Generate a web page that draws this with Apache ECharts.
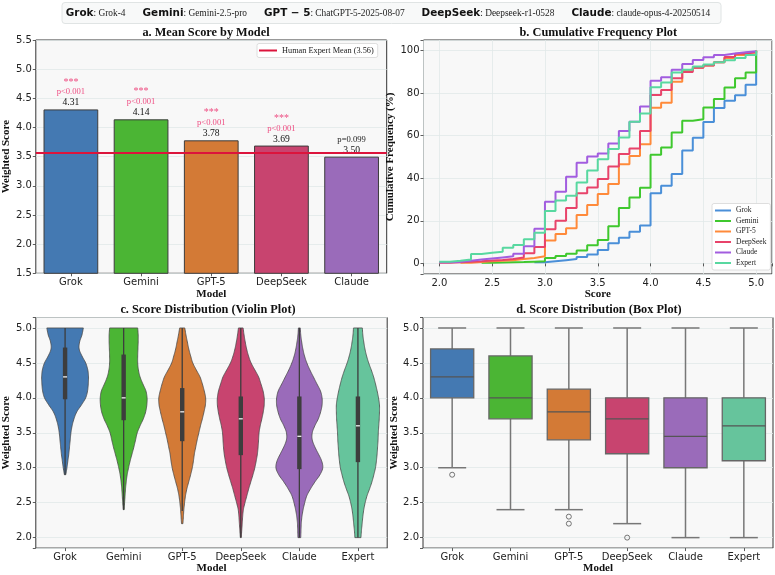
<!DOCTYPE html>
<html><head><meta charset="utf-8">
<script src="https://cdn.jsdelivr.net/npm/echarts@6/dist/echarts.min.js"></script>
<style>html,body{margin:0;padding:0;background:#fff}#c{width:775px;height:575px}</style>
</head><body><div id="c"></div>
<script>
// ---------- data ----------
const models5 = ['Grok','Gemini','GPT-5','DeepSeek','Claude'];
const models6 = ['Grok','Gemini','GPT-5','DeepSeek','Claude','Expert'];
const headerKeys = ['Grok','Gemini','GPT \u2212 5','DeepSeek','Claude'];
const headerVals = [': Grok-4',': Gemini-2.5-pro',': ChatGPT-5-2025-08-07',': Deepseek-r1-0528',': claude-opus-4-20250514'];

const meanScores = [4.31,4.14,3.78,3.69,3.50];
const pStars = ['***','***','***','***',''];
const pTexts = ['p<0.001','p<0.001','p<0.001','p<0.001','p=0.099'];
const humanExpertMean = 3.56;

// cumulative frequency (%), at scores 2.0 .. 5.0
const scoreGrid = [2.0,2.1,2.2,2.3,2.4,2.5,2.6,2.7,2.8,2.9,3.0,3.1,3.2,3.3,3.4,3.5,3.6,3.7,3.8,3.9,4.0,4.1,4.2,4.3,4.4,4.5,4.6,4.7,4.8,4.9,5.0];
const cumGrok     = [null,null,null,null,null,null,null,null,null,0.5,1.0,1.5,2.0,3.0,4.2,6.3,9.4,12.0,14.9,17.8,33,36.5,42,53,59,66.5,73,76.5,79,84,100];
const cumGemini   = [null,null,null,null,0.3,0.4,0.5,0.6,0.8,1.0,2.5,3.5,4.5,6.0,8.5,11,17.5,26,31,35.5,51,54.5,61.5,67,67.7,73.3,77.3,82.7,87,89.7,100];
const cumGPT5     = [null,null,0.3,0.6,1.0,1.2,1.5,2.0,2.5,3.3,10.7,13.8,16.5,22.7,27.4,32.6,37.3,46.6,50.5,56,73.2,75.5,85.4,90.8,92,93,94.5,96.5,98,99,100];
const cumDeepSeek = [0.3,0.5,0.8,1.0,1.3,1.6,2.0,2.8,4.7,7.7,16,20,26,33,35.7,39.7,45.5,51.4,54,62.2,79.2,81.5,87,90,92,93,94.5,97,98.5,99.3,100];
const cumClaude   = [0.5,0.8,1.2,1.8,2.3,2.8,3.3,4.5,8.0,16.3,29,33.7,40.7,47.3,50.2,51.7,56.4,62.2,66.6,73.7,85.9,87.5,91,93.7,95.6,96.9,98,98.7,99.2,99.7,100];
const cumExpert   = [0.8,1.2,1.8,4.4,5.0,5.5,7.3,8.6,11.3,14.4,24.6,29.5,31.8,38,43.6,49,53.8,59.2,66.6,70.5,82.8,85,89.7,91,92.5,93.5,94.5,95.5,96.5,98,100];
const scoreTicks = [2.0,2.5,3.0,3.5,4.0,4.5,5.0];
const freqTicks = [0,20,40,60,80,100];

// violin relative half-widths at scores 2.0 .. 5.0
const vwGrok     = [0,0,0,0,0,0,0,0,0,0.03,0.08,0.12,0.16,0.19,0.22,0.25,0.30,0.38,0.50,0.70,0.88,0.96,0.99,1.0,0.97,0.88,0.72,0.60,0.62,0.72,0.78];
const vwGemini   = [0,0,0,0,0.02,0.04,0.06,0.08,0.11,0.15,0.21,0.28,0.36,0.44,0.51,0.58,0.70,0.84,0.94,0.99,1.0,0.95,0.82,0.70,0.63,0.60,0.60,0.61,0.62,0.62,0.60];
const vwGPT5     = [0,0,0.03,0.05,0.07,0.10,0.14,0.20,0.28,0.36,0.43,0.48,0.52,0.58,0.64,0.71,0.78,0.86,0.93,0.99,1.0,0.94,0.86,0.76,0.60,0.45,0.36,0.28,0.22,0.16,0.11];
const vwDeepSeek = [0.02,0.04,0.06,0.08,0.11,0.18,0.26,0.34,0.43,0.52,0.60,0.66,0.71,0.74,0.76,0.78,0.83,0.90,0.96,1.0,1.0,0.95,0.86,0.76,0.60,0.44,0.33,0.25,0.19,0.14,0.10];
const vwClaude   = [0.06,0.07,0.08,0.11,0.16,0.23,0.32,0.48,0.67,0.88,1.0,0.95,0.81,0.66,0.55,0.55,0.66,0.81,0.91,0.97,0.97,0.90,0.75,0.60,0.45,0.32,0.22,0.15,0.10,0.06,0.04];
const vwExpert   = [0.13,0.15,0.18,0.21,0.25,0.31,0.39,0.50,0.60,0.68,0.75,0.79,0.82,0.84,0.86,0.87,0.89,0.91,0.92,0.92,0.88,0.82,0.75,0.67,0.57,0.46,0.37,0.30,0.25,0.21,0.19];
const violinMin  = [2.9,2.4,2.2,2.0,2.0,2.0];
const vWhiskLo   = [2.9,2.4,2.38,2.0,2.0,2.0];
const vWhiskHi   = [5.0,5.0,5.0,5.0,5.0,5.0];
const vQ1        = [3.98,3.68,3.38,3.18,2.98,3.08];
const vMed       = [4.3,4.0,3.8,3.7,3.45,3.6];
const vQ3        = [4.72,4.62,4.14,4.02,4.02,4.02];

// box plot
const boxMin = [3.0,2.4,2.4,2.2,2.0,2.0];
const boxQ1  = [4.0,3.7,3.4,3.2,3.0,3.1];
const boxMed = [4.3,4.0,3.8,3.7,3.45,3.6];
const boxQ3  = [4.7,4.6,4.125,4.0,4.0,4.0];
const boxMax = [5.0,5.0,5.0,5.0,5.0,5.0];
const outlierCat = [0,2,2,3];
const outlierVal = [2.9,2.3,2.2,2.0];

// ---------- styles ----------
const SANS = '"DejaVu Sans", sans-serif';
const SERIF = '"Liberation Serif", "Times New Roman", serif';
const fillColors = ['#4479b2','#4bb534','#d37a36','#c8446f','#9a6bba','#66c49c'];
const lineColors = ['#4a8fd8','#3fc82e','#ff8a3a','#e8436a','#a25ddf','#58d8a0'];
const pink = '#ee4d82';
const gridBg = '#f8f8f8';
const gridLine = {show:true, lineStyle:{color:'#e1e9e9', width:0.8}};
const tickLab = {fontFamily:SANS, fontSize:10, color:'#222', margin:4};
const catLab = {fontFamily:SANS, fontSize:10, color:'#222', margin:4, interval:0};
const tickStyle = {show:true, length:3, lineStyle:{color:'#333', width:0.8}};
const nameSt = {fontFamily:SERIF, fontWeight:'bold', fontSize:11, color:'#111'};
const isTick = (arr) => (v) => arr.some(t => Math.abs(t - v) < 1e-6) ? (arr === freqTicks ? String(v) : v.toFixed(1)) : '';

function smoothProfile(pts, n) {
  const out = [];
  for (let i = 0; i < pts.length - 1; i++) {
    const p0 = pts[Math.max(i-1,0)], p1 = pts[i], p2 = pts[i+1], p3 = pts[Math.min(i+2,pts.length-1)];
    for (let k = 0; k < n; k++) {
      const t = k/n, t2 = t*t, t3 = t2*t;
      const f = (a,b,c,d) => 0.5*((2*b)+(-a+c)*t+(2*a-5*b+4*c-d)*t2+(-a+3*b-3*c+d)*t3);
      out.push([f(p0[0],p1[0],p2[0],p3[0]), f(p0[1],p1[1],p2[1],p3[1])]);
    }
  }
  out.push(pts[pts.length-1]);
  return out;
}

const violinWidths = [vwGrok,vwGemini,vwGPT5,vwDeepSeek,vwClaude,vwExpert];
const cumAll = [cumGrok,cumGemini,cumGPT5,cumDeepSeek,cumClaude,cumExpert];

const chart = echarts.init(document.getElementById('c'), null, {width:775, height:575});

const gridCommon = {show:true, backgroundColor:gridBg, borderColor:'#333', borderWidth:1, containLabel:false};

const headerText = headerKeys.map((k,i)=>'{k|'+k+'}{v|'+headerVals[i]+'}').join('{g| }');
const titleStyle = (t) => ({text:t, font:'bold 12.3px "Liberation Serif"', fill:'#111', align:'center', verticalAlign:'middle', textAlign:'center', textVerticalAlign:'middle'});

const option = {
  animation:false,
  backgroundColor:'#fff',
  grid:[
    Object.assign({left:31.7, top:40, width:355, height:233.3}, gridCommon),
    Object.assign({left:423.5, top:40, width:349.5, height:234}, gridCommon),
    Object.assign({left:31.7, top:317.5, width:355.5, height:233}, gridCommon),
    Object.assign({left:423, top:317.5, width:350, height:233}, gridCommon)
  ],
  graphic:[
    {type:'rect', shape:{x:62, y:2.5, width:659, height:21, r:3}, style:{fill:'#f8f9f9', stroke:'#e0e4e4', lineWidth:1}},
    {type:'text', x:388, y:13.5, style:{text:headerText, align:'center', verticalAlign:'middle', textAlign:'center', textVerticalAlign:'middle',
      rich:{k:{fontFamily:SANS, fontWeight:'bold', fontSize:10.4, fill:'#111'}, v:{fontFamily:SERIF, fontSize:9.4, fill:'#222'}, g:{width:17}}}},
    {type:'text', x:206, y:32.5, style:titleStyle('a. Mean Score by Model')},
    {type:'text', x:598.3, y:32.5, style:titleStyle('b. Cumulative Frequency Plot')},
    {type:'text', x:208, y:310, style:titleStyle('c. Score Distribution (Violin Plot)')},
    {type:'text', x:599, y:310, style:titleStyle('d. Score Distribution (Box Plot)')}
  ],
  legend:[
    {data:['Human Expert Mean ('+humanExpertMean.toFixed(2)+')'], left:257, top:43.5, icon:'rect', itemWidth:18, itemHeight:2,
      padding:[3,4,3,2], backgroundColor:'#fff', borderColor:'#d6d6d6', borderWidth:0.8, borderRadius:2, selectedMode:false,
      textStyle:{fontFamily:SERIF, fontSize:8.3, color:'#222', lineHeight:8}},
    {data:models6, left:712, top:203.5, orient:'vertical', icon:'rect', itemWidth:16, itemHeight:2, itemGap:2.5,
      padding:[3,4,3,3], backgroundColor:'#fff', borderColor:'#d6d6d6', borderWidth:0.8, borderRadius:2, selectedMode:false,
      textStyle:{fontFamily:SERIF, fontSize:7.5, color:'#222', lineHeight:8}}
  ],
  xAxis:[
    {type:'category', gridIndex:0, data:models5, axisLine:{show:false}, axisTick:Object.assign({alignWithLabel:true}, tickStyle), axisLabel:catLab,
      name:'Model', nameLocation:'middle', nameGap:14, nameTextStyle:nameSt, splitLine:{show:false}},
    {type:'value', gridIndex:1, min:1.85, max:5.15, axisLine:{show:false}, axisTick:tickStyle, axisLabel:Object.assign({formatter:isTick(scoreTicks)}, tickLab),
      name:'Score', nameLocation:'middle', nameGap:14, nameTextStyle:nameSt, splitLine:gridLine},
    {type:'category', gridIndex:2, data:models6, axisLine:{show:false}, axisTick:Object.assign({alignWithLabel:true}, tickStyle), axisLabel:catLab,
      name:'Model', nameLocation:'middle', nameGap:14, nameTextStyle:nameSt, splitLine:{show:false}},
    {type:'category', gridIndex:3, data:models6, axisLine:{show:false}, axisTick:Object.assign({alignWithLabel:true}, tickStyle), axisLabel:catLab,
      name:'Model', nameLocation:'middle', nameGap:14, nameTextStyle:nameSt, splitLine:{show:false}}
  ],
  yAxis:[
    {type:'value', gridIndex:0, min:1.5, max:5.5, interval:0.5, axisLine:{show:false}, axisTick:tickStyle,
      axisLabel:Object.assign({formatter:v=>v.toFixed(1)}, tickLab), splitLine:gridLine,
      name:'Weighted Score', nameLocation:'middle', nameGap:23, nameTextStyle:nameSt},
    {type:'value', gridIndex:1, min:-5, max:105, axisLine:{show:false}, axisTick:tickStyle,
      axisLabel:Object.assign({formatter:isTick(freqTicks)}, tickLab), splitLine:gridLine,
      name:'Cumulative Frequency (%)', nameLocation:'middle', nameGap:28, nameTextStyle:nameSt},
    {type:'value', gridIndex:2, min:1.85, max:5.15, axisLine:{show:false}, axisTick:tickStyle,
      axisLabel:Object.assign({formatter:isTick(scoreTicks)}, tickLab), splitLine:gridLine,
      name:'Weighted Score', nameLocation:'middle', nameGap:23, nameTextStyle:nameSt},
    {type:'value', gridIndex:3, min:1.85, max:5.15, axisLine:{show:false}, axisTick:tickStyle,
      axisLabel:Object.assign({formatter:isTick(scoreTicks)}, tickLab), splitLine:gridLine,
      name:'Weighted Score', nameLocation:'middle', nameGap:23, nameTextStyle:nameSt}
  ],
  series:[]
};

// a. bars
option.series.push({
  type:'bar', name:'Mean', xAxisIndex:0, yAxisIndex:0, barWidth:'78%',
  data: meanScores.map((v,i)=>({value:v, itemStyle:{color:fillColors[i]}})),
  itemStyle:{borderColor:'#3c3c3c', borderWidth:1},
  label:{show:true, position:'top', distance:1,
    formatter: p => { const i = p.dataIndex; let s = '';
      if (pStars[i]) s += '{s|'+pStars[i]+'}\n';
      s += (pStars[i] ? '{p|' : '{q|') + pTexts[i] + '}\n';
      s += '{v|' + meanScores[i].toFixed(2) + '}'; return s; },
    rich:{ s:{fontFamily:SERIF, fontSize:10, color:pink, lineHeight:10},
           p:{fontFamily:SERIF, fontSize:8.6, color:pink, lineHeight:10.5},
           q:{fontFamily:SERIF, fontSize:8.6, color:'#222', lineHeight:10.5},
           v:{fontFamily:SERIF, fontSize:9.6, color:'#111', lineHeight:11} }},
  markLine:{symbol:'none', silent:true, label:{show:false}, z:5,
    lineStyle:{color:'#dc143c', width:2, type:'solid'}, data:[{yAxis:humanExpertMean}]}
});
option.series.push({type:'line', name:'Human Expert Mean ('+humanExpertMean.toFixed(2)+')', xAxisIndex:0, yAxisIndex:0, data:[], color:'#dc143c'});

// b. cumulative lines
models6.forEach((m,i)=>{
  option.series.push({
    type:'line', name:m, xAxisIndex:1, yAxisIndex:1, step:'end', showSymbol:false, symbol:'none',
    color:lineColors[i], lineStyle:{width:2, color:lineColors[i]},
    data: scoreGrid.map((s,k)=>[s, cumAll[i][k]]).filter(d=>d[1] !== null)
  });
});

// c. violins
option.series.push({
  type:'custom', name:'violin', xAxisIndex:2, yAxisIndex:2,
  data: models6.map((m,i)=>[i, vMed[i]]),
  renderItem:(params, api)=>{
    const i = api.value(0);
    const band = api.coord([1,3])[0] - api.coord([0,3])[0];
    const cx = api.coord([i,3])[0];
    const maxHalf = band*0.4;
    const prof = [];
    scoreGrid.forEach((s,k)=>{ if (s >= violinMin[i]-1e-9) prof.push([api.coord([i,s])[1], violinWidths[i][k]*maxHalf]); });
    const sm = smoothProfile(prof, 6).map(p=>[p[0], Math.max(0,p[1])]);
    const left = sm.map(p=>[cx-p[1], p[0]]);
    const right = sm.map(p=>[cx+p[1], p[0]]).reverse();
    const yLo = api.coord([i,vWhiskLo[i]])[1], yHi = api.coord([i,vWhiskHi[i]])[1];
    const yQ1 = api.coord([i,vQ1[i]])[1], yQ3 = api.coord([i,vQ3[i]])[1], yMd = api.coord([i,vMed[i]])[1];
    return {type:'group', children:[
      {type:'polygon', shape:{points:left.concat(right)}, style:{fill:fillColors[i], stroke:'#4a4a4a', lineWidth:0.8}},
      {type:'line', shape:{x1:cx, y1:yLo, x2:cx, y2:yHi}, style:{stroke:'#3d3d3d', lineWidth:1.3}},
      {type:'rect', shape:{x:cx-2.2, y:yQ3, width:4.4, height:yQ1-yQ3}, style:{fill:'#3d3d3d'}},
      {type:'line', shape:{x1:cx-2, y1:yMd, x2:cx+2, y2:yMd}, style:{stroke:'#fff', lineWidth:1.2}}
    ]};
  }
});

// d. box plots
option.series.push({
  type:'custom', name:'box', xAxisIndex:3, yAxisIndex:3,
  data: models6.map((m,i)=>[i, boxMed[i]]),
  renderItem:(params, api)=>{
    const i = api.value(0);
    const band = api.coord([1,3])[0] - api.coord([0,3])[0];
    const cx = api.coord([i,3])[0];
    const bw = band*0.74, cw = band*0.48;
    const y = v => api.coord([i,v])[1];
    const yMn = y(boxMin[i]), y1 = y(boxQ1[i]), yM = y(boxMed[i]), y3 = y(boxQ3[i]), yMx = y(boxMax[i]);
    const wStyle = {stroke:'#777', lineWidth:1.5};
    return {type:'group', children:[
      {type:'line', shape:{x1:cx, y1:y1, x2:cx, y2:yMn}, style:wStyle},
      {type:'line', shape:{x1:cx, y1:y3, x2:cx, y2:yMx}, style:wStyle},
      {type:'line', shape:{x1:cx-cw/2, y1:yMn, x2:cx+cw/2, y2:yMn}, style:wStyle},
      {type:'line', shape:{x1:cx-cw/2, y1:yMx, x2:cx+cw/2, y2:yMx}, style:wStyle},
      {type:'rect', shape:{x:cx-bw/2, y:y3, width:bw, height:y1-y3}, style:{fill:fillColors[i], stroke:'#666', lineWidth:1.3}},
      {type:'line', shape:{x1:cx-bw/2, y1:yM, x2:cx+bw/2, y2:yM}, style:{stroke:'#555', lineWidth:1.3}}
    ]};
  }
});
option.series.push({
  type:'scatter', name:'outliers', xAxisIndex:3, yAxisIndex:3, symbol:'circle', symbolSize:5,
  itemStyle:{color:'rgba(0,0,0,0)', borderColor:'#555', borderWidth:1},
  data: outlierCat.map((c,k)=>[c, outlierVal[k]])
});

chart.setOption(option);
</script></body></html>
